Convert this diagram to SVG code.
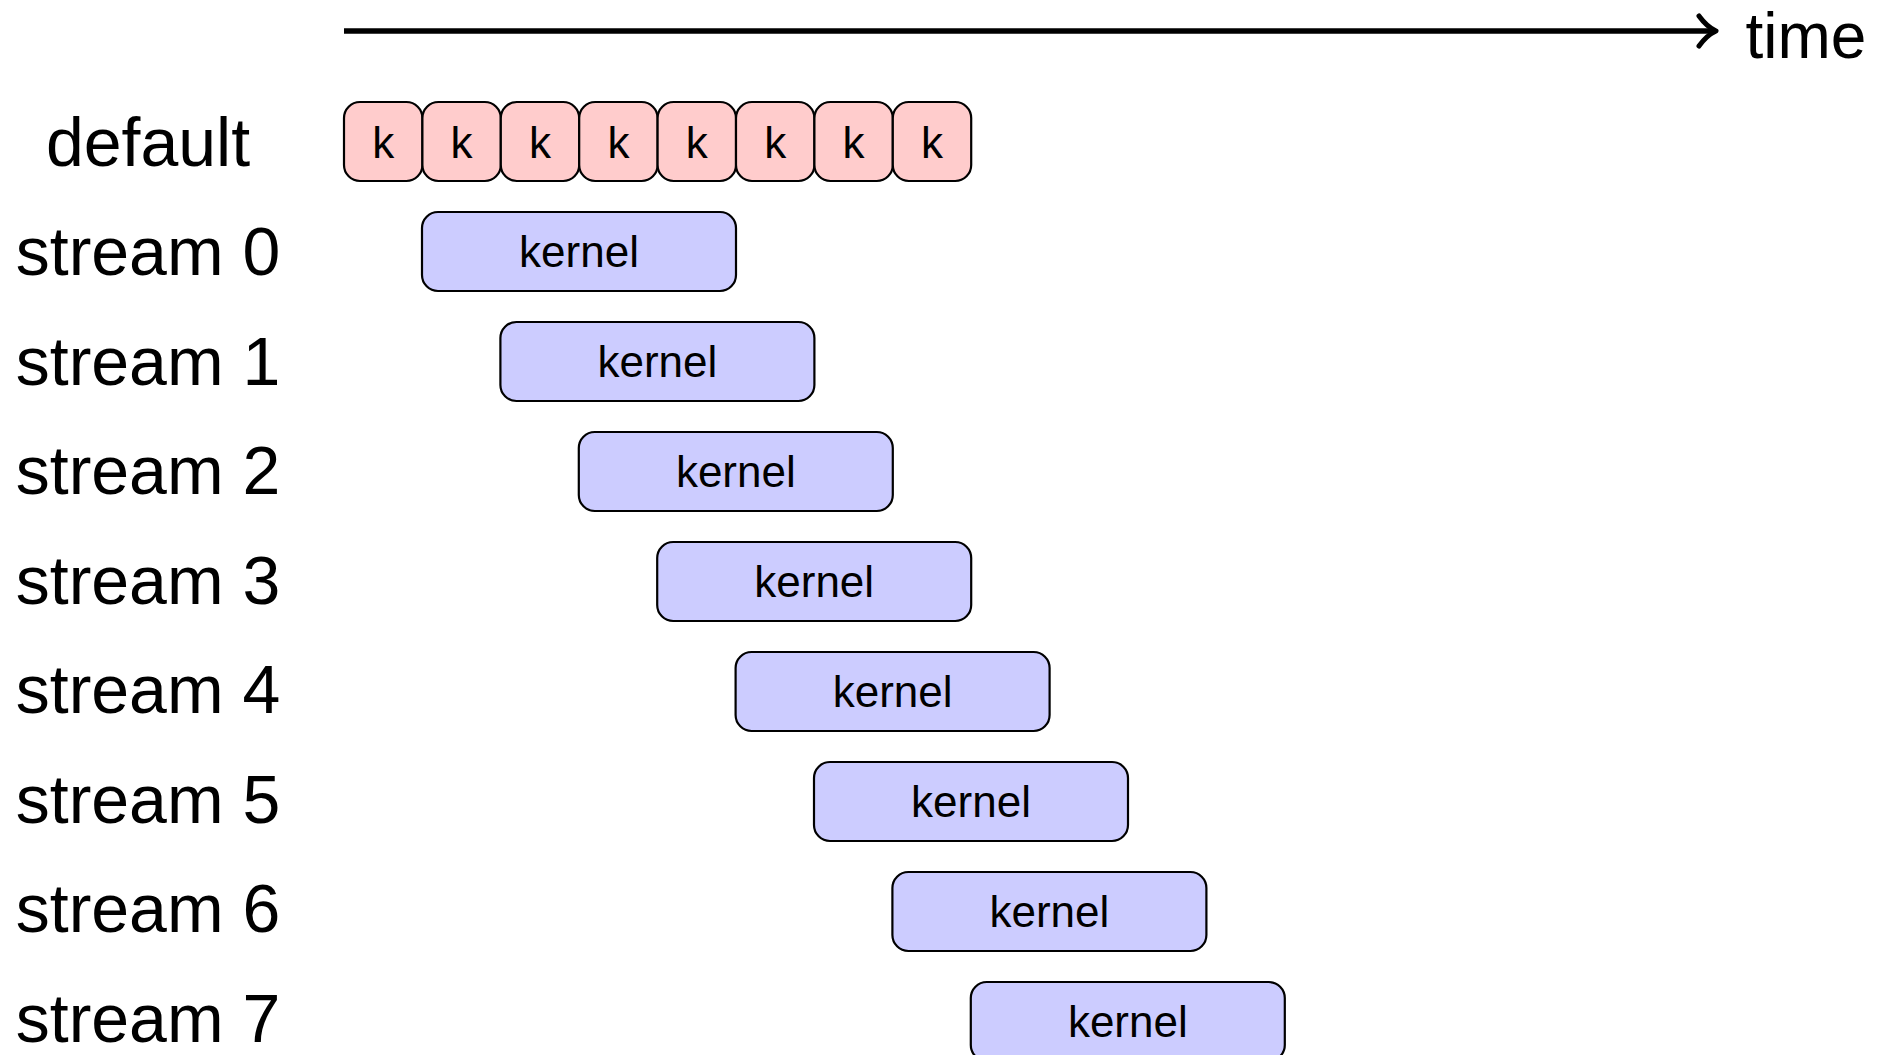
<svg xmlns="http://www.w3.org/2000/svg" width="1891" height="1055" viewBox="0 0 1891 1055">
<style>
text{font-family:"Liberation Sans",Arial,sans-serif;fill:#000}
.lbl{font-size:68px;text-anchor:middle}
.k{fill:#ffcccc;stroke:#000;stroke-width:2.2}
.kern{fill:#ccccff;stroke:#000;stroke-width:2.2}
.t{font-size:44px;text-anchor:middle}
</style>
<rect width="1891" height="1055" fill="#fff"/>
<g id="connectors">
<line x1="344" y1="31" x2="1713" y2="31" stroke="#000" stroke-width="5.5"/>
<path d="M1699,16 Q1707,27 1716,31 Q1707,35 1699,46" fill="none" stroke="#000" stroke-width="5" stroke-linecap="round" stroke-linejoin="round"/>
</g>
<text x="1806" y="58" style="font-size:64px;text-anchor:middle">time</text>
<g id="labels">
<text class="lbl" x="148" y="166">default</text>
<text class="lbl" x="148" y="275">stream 0</text>
<text class="lbl" x="148" y="385">stream 1</text>
<text class="lbl" x="148" y="494">stream 2</text>
<text class="lbl" x="148" y="604">stream 3</text>
<text class="lbl" x="148" y="713">stream 4</text>
<text class="lbl" x="148" y="823">stream 5</text>
<text class="lbl" x="148" y="932">stream 6</text>
<text class="lbl" x="148" y="1042">stream 7</text>
</g>
<g id="default">
<g id="k0"><rect class="k" x="344" y="102" width="78.4" height="79" rx="16"/><text class="t" x="383.2" y="158">k</text></g>
<g id="k1"><rect class="k" x="422.4" y="102" width="78.4" height="79" rx="16"/><text class="t" x="461.6" y="158">k</text></g>
<g id="k2"><rect class="k" x="500.8" y="102" width="78.4" height="79" rx="16"/><text class="t" x="540" y="158">k</text></g>
<g id="k3"><rect class="k" x="579.2" y="102" width="78.4" height="79" rx="16"/><text class="t" x="618.4" y="158">k</text></g>
<g id="k4"><rect class="k" x="657.6" y="102" width="78.4" height="79" rx="16"/><text class="t" x="696.8" y="158">k</text></g>
<g id="k5"><rect class="k" x="736" y="102" width="78.4" height="79" rx="16"/><text class="t" x="775.2" y="158">k</text></g>
<g id="k6"><rect class="k" x="814.4" y="102" width="78.4" height="79" rx="16"/><text class="t" x="853.6" y="158">k</text></g>
<g id="k7"><rect class="k" x="892.8" y="102" width="78.4" height="79" rx="16"/><text class="t" x="932" y="158">k</text></g>
</g>
<g id="s0"><rect class="kern" x="422" y="212" width="314" height="79" rx="16"/><text class="t" x="579" y="267">kernel</text></g>
<g id="s1"><rect class="kern" x="500.4" y="322" width="314" height="79" rx="16"/><text class="t" x="657.4" y="377">kernel</text></g>
<g id="s2"><rect class="kern" x="578.8" y="432" width="314" height="79" rx="16"/><text class="t" x="735.8" y="487">kernel</text></g>
<g id="s3"><rect class="kern" x="657.2" y="542" width="314" height="79" rx="16"/><text class="t" x="814.2" y="597">kernel</text></g>
<g id="s4"><rect class="kern" x="735.6" y="652" width="314" height="79" rx="16"/><text class="t" x="892.6" y="707">kernel</text></g>
<g id="s5"><rect class="kern" x="814" y="762" width="314" height="79" rx="16"/><text class="t" x="971" y="817">kernel</text></g>
<g id="s6"><rect class="kern" x="892.4" y="872" width="314" height="79" rx="16"/><text class="t" x="1049.4" y="927">kernel</text></g>
<g id="s7"><rect class="kern" x="970.8" y="982" width="314" height="79" rx="16"/><text class="t" x="1127.8" y="1037">kernel</text></g>
</svg>
